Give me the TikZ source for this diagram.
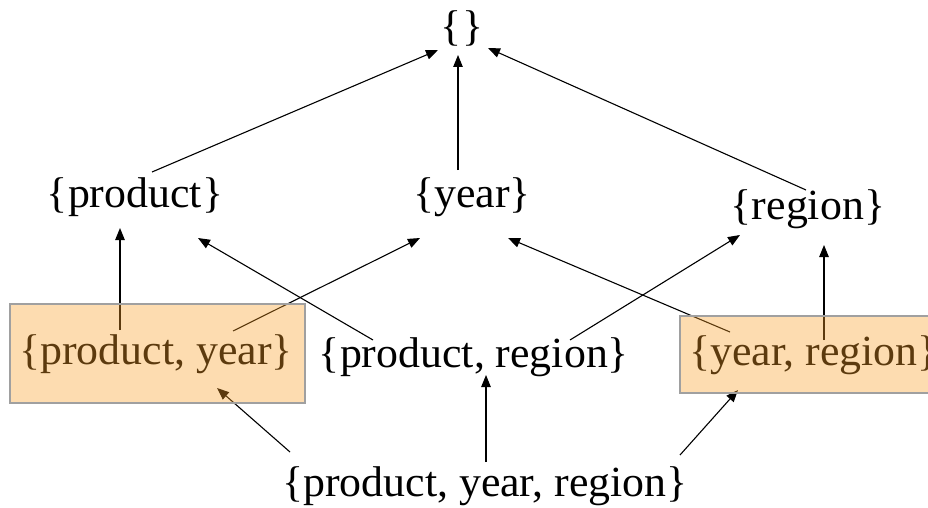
\documentclass[tikz,border=0pt]{standalone}
\usepackage{fontspec}
\setmainfont{Liberation Serif}[FakeStretch=1.02]
\usetikzlibrary{arrows.meta}
\definecolor{hiliteorange}{RGB}{250,160,40}
\definecolor{hiliteedge}{RGB}{160,160,160}
\tikzset{
  lattice/.style={inner sep=0pt, font=\fontsize{43}{51}\selectfont},
  arr/.style={line width=1.1pt, -{Triangle[length=12pt,width=9.5pt]}},
  hilite/.style={fill=hiliteorange, fill opacity=0.37, draw=hiliteedge,
                 draw opacity=1, line width=1.6pt, inner sep=0pt}
}
\begin{document}
\begin{tikzpicture}[x=1pt,y=-1pt]
\useasboundingbox (0,0) rectangle (928,508);

% lattice of group-by sets
\node[lattice] (empty)  at (462,28)  {\{\}};
\node[lattice] (prod)   at (135,197) {\{product\}};
\node[lattice] (year)   at (472,197) {\{year\}};
\node[lattice] (region) at (808,209) {\{region\}};
\node[lattice] (py)     at (156,354) {\{product, year\}};
\node[lattice] (pr)     at (474,357) {\{product, region\}};
\node[lattice] (yr)     at (814,355) {\{year, region\}};
\node[lattice] (pyr)    at (485,486) {\{product, year, region\}};

% edges towards coarser sets
\draw[arr] ([shift={(17,-25)}]prod.center)   -- ([shift={(-24,22)}]empty.center);
\draw[arr] ([shift={(-14,-27)}]year.center)  -- ([shift={(-4,27)}]empty.center);
\draw[arr] ([shift={(-2,-19)}]region.center) -- ([shift={(26,20)}]empty.center);

\draw[arr] ([shift={(-36,-24)}]py.center)  -- ([shift={(-15,31)}]prod.center);
\draw[arr] ([shift={(77,-23)}]py.center)   -- ([shift={(-52,41)}]year.center);
\draw[arr] ([shift={(-101,-17)}]pr.center) -- ([shift={(63,41)}]prod.center);
\draw[arr] ([shift={(96,-17)}]pr.center)   -- ([shift={(-68,26)}]region.center);
\draw[arr] ([shift={(-84,-23)}]yr.center)  -- ([shift={(36,41)}]year.center);
\draw[arr] ([shift={(10,-15)}]yr.center)   -- ([shift={(16,36)}]region.center);

\draw[arr] ([shift={(-195,-34)}]pyr.center) -- ([shift={(61,34)}]py.center);
\draw[arr] ([shift={(1,-24)}]pyr.center)    -- ([shift={(12,18)}]pr.center);
\draw[arr] ([shift={(195,-31)}]pyr.center)  -- ([shift={(-76,35)}]yr.center);

% highlighted sets
\node[hilite, minimum width=295pt, minimum height=99pt] (pybox) at ([shift={(1.5,-0.5)}]py.center) {};
\node[hilite, minimum width=262pt, minimum height=77pt] (yrbox) at ([shift={(-3,-0.5)}]yr.center) {};
\end{tikzpicture}
\end{document}
